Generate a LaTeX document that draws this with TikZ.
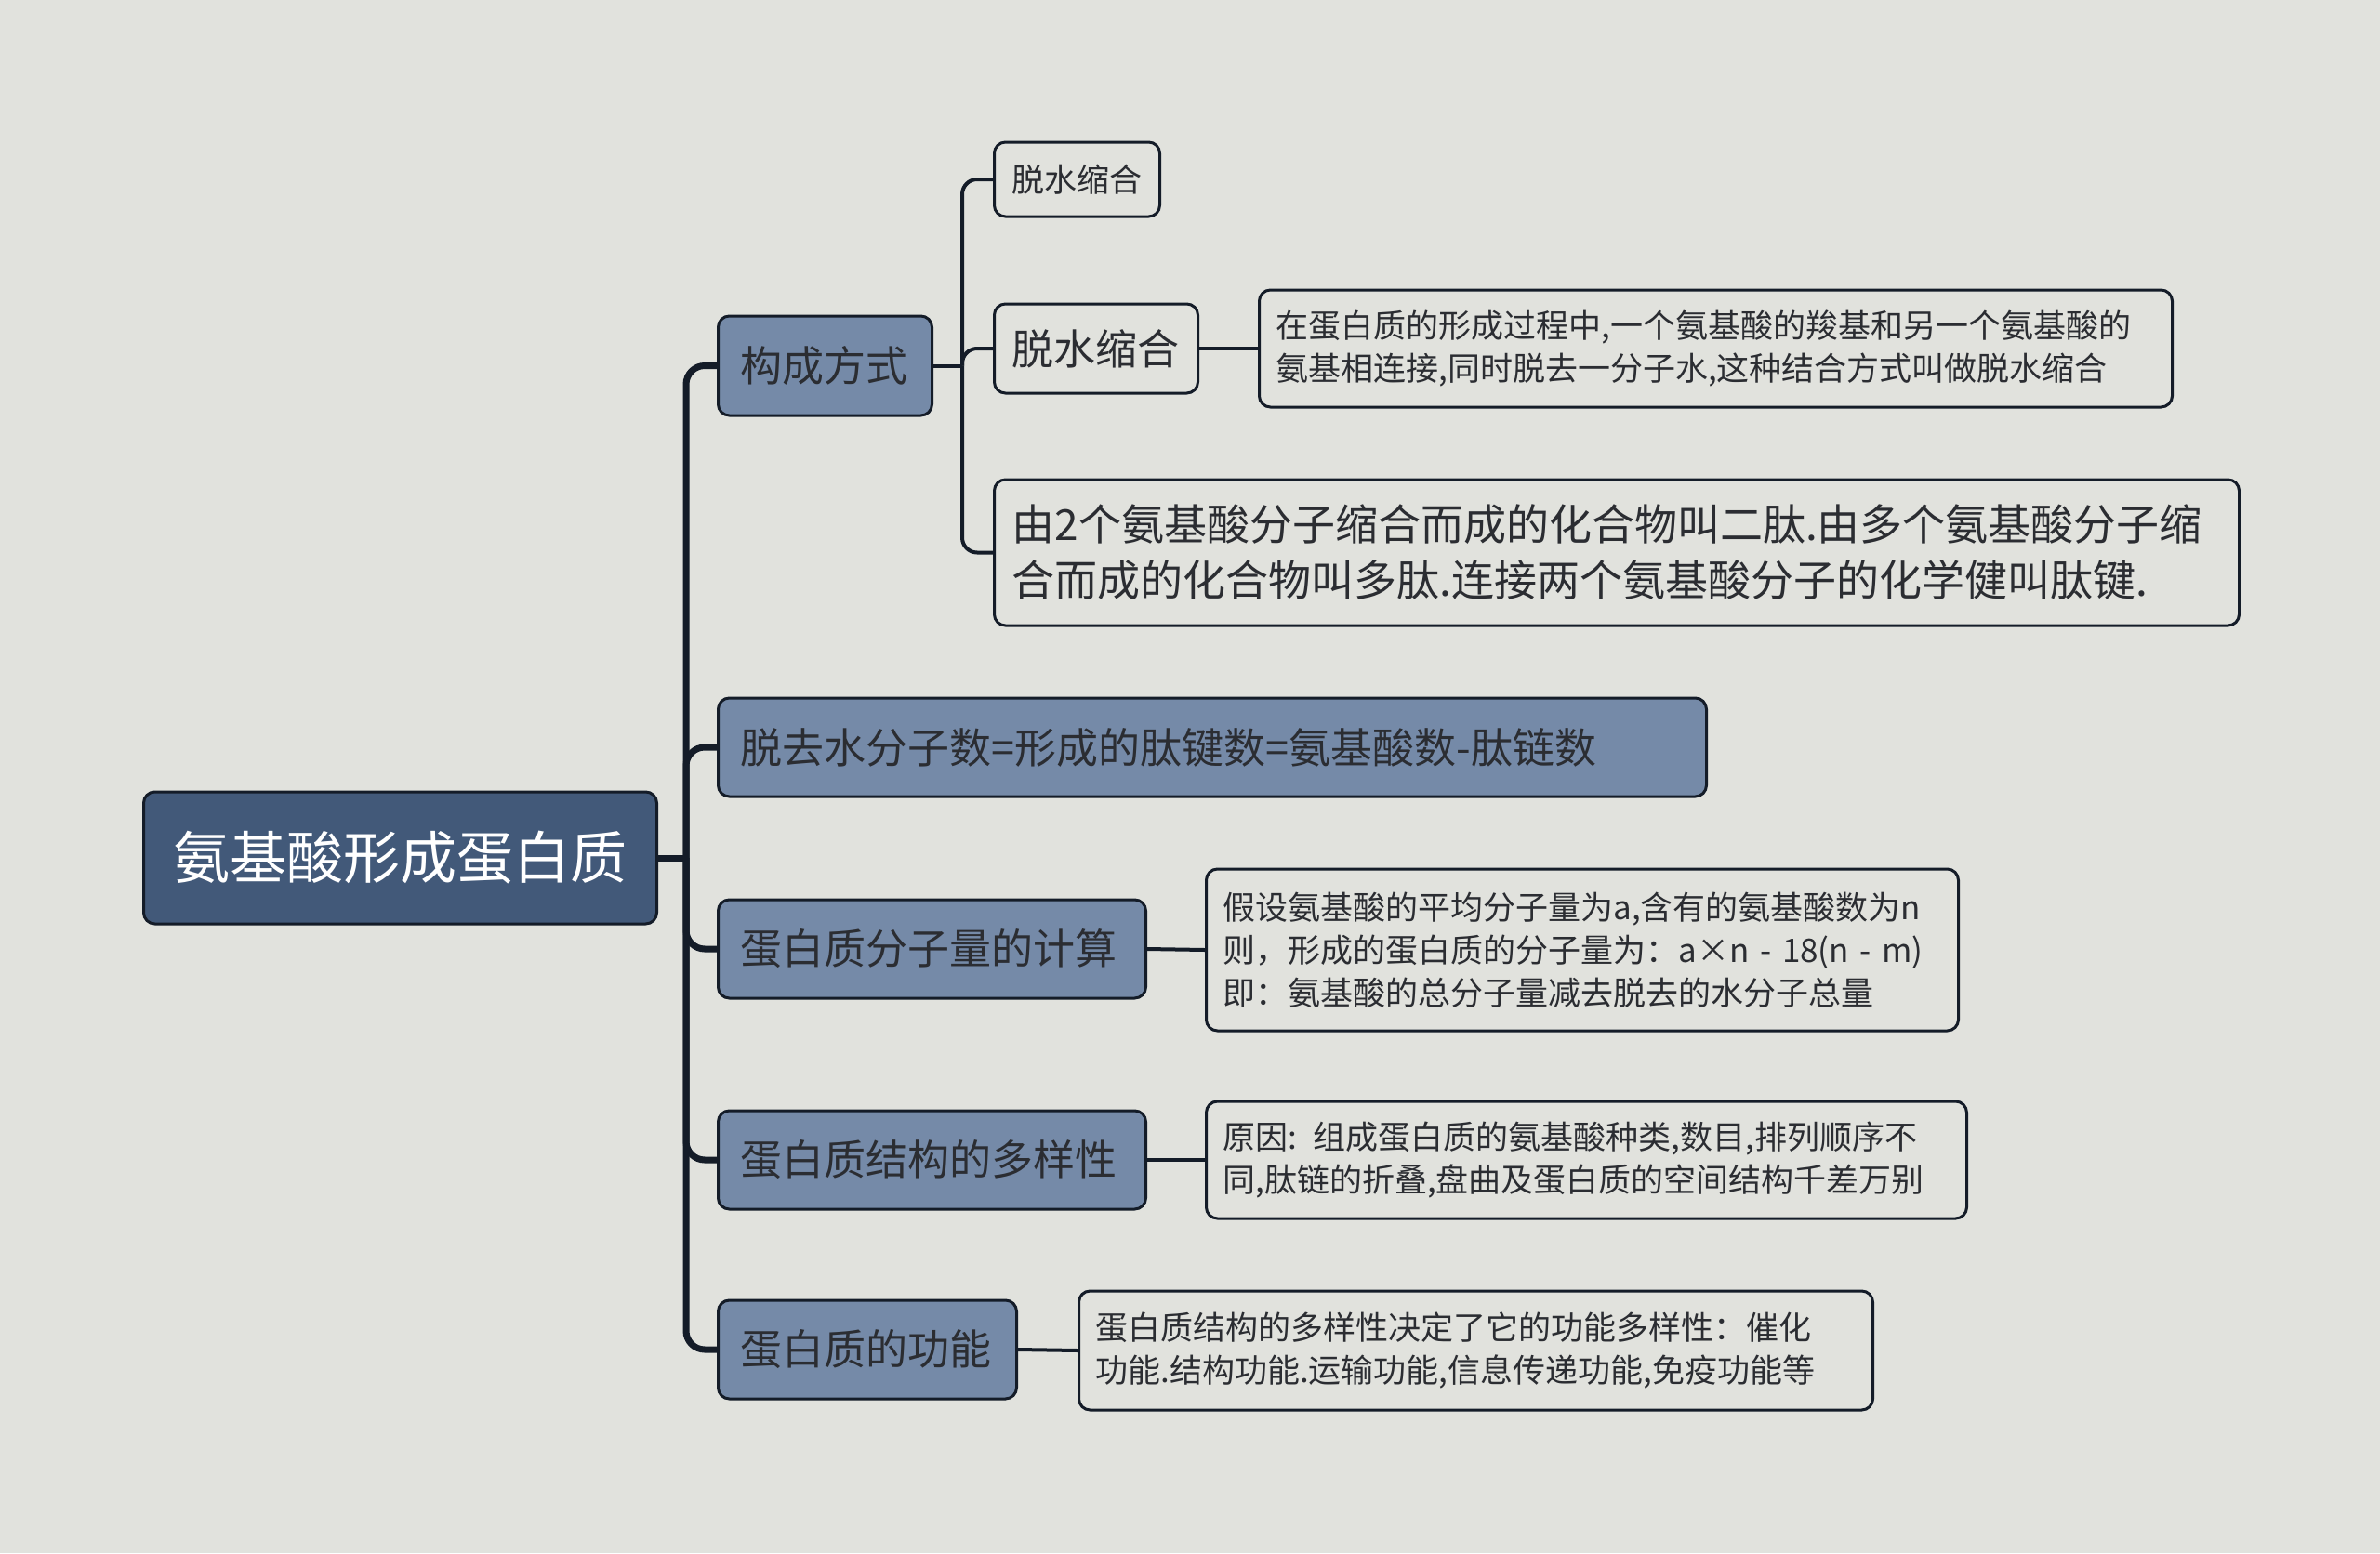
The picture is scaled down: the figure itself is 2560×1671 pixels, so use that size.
\documentclass[tikz,border=0pt]{standalone}
\usepackage{fontspec}
\setmainfont{Noto Sans CJK SC}
\usepackage{xcolor}
\usetikzlibrary{positioning}

\definecolor{bgpaper}{RGB}{225,226,221}
\definecolor{rootblue}{RGB}{66,89,121}
\definecolor{topicblue}{RGB}{117,138,168}
\definecolor{inkline}{RGB}{20,28,40}
\definecolor{inktext}{RGB}{43,45,50}

\begin{document}
\begin{tikzpicture}[x=0.5pt, y=-0.5pt,
    rootbox/.style={anchor=west, draw=inkline, line width=1.5pt, fill=rootblue, rounded corners=6pt,
        text=white, font=\fontsize{30.5}{36}\selectfont, inner sep=0pt},
    topicbox/.style={anchor=west, draw=inkline, line width=1.5pt, fill=topicblue, rounded corners=6pt,
        text=inktext, font=\fontsize{22.5}{27}\selectfont, align=left, inner xsep=12pt, inner ysep=0pt},
    subbox/.style={anchor=west, draw=inkline, line width=1.5pt, fill=bgpaper, rounded corners=6pt,
        text=inktext, align=left, inner xsep=9.5pt, inner ysep=0pt},
    notebox/.style={anchor=west, draw=inkline, line width=1.5pt, fill=bgpaper, rounded corners=6pt,
        text=inktext, font=\fontsize{17.5}{23}\selectfont, align=left, inner xsep=9pt, inner ysep=0pt},
    trunk/.style={draw=inkline, line width=3.5pt, rounded corners=10pt},
    twig/.style={draw=inkline, line width=2pt, rounded corners=8pt}]

    % canvas
    \fill[bgpaper] (0,0) rectangle (2560,1671);
    \useasboundingbox (0,0) rectangle (2560,1671);

    % central topic
    \node[rootbox, minimum width=276pt, minimum height=71pt] (root) at (153,923) {氨基酸形成蛋白质};

    % main branches
    \node[topicbox, text width=91pt, minimum height=53.5pt] (way) at (771,393.5) {构成方式};
    \node[topicbox, text width=507.5pt, minimum height=53pt] (water) at (771,804) {脱去水分子数=形成的肽键数=氨基酸数-肽链数};
    \node[topicbox, text width=206pt, minimum height=53pt] (mass) at (771,1021) {蛋白质分子量的计算};
    \node[topicbox, text width=206pt, minimum height=53pt] (variety) at (771,1248) {蛋白质结构的多样性};
    \node[topicbox, text width=136.5pt, minimum height=53pt] (func) at (771,1452) {蛋白质的功能};

    % sub branches of 构成方式
    \node[subbox, font=\fontsize{17.5}{21}\selectfont, text width=70pt, minimum height=40pt] (way1) at (1068,193) {脱水缩合};
    \node[subbox, font=\fontsize{22.5}{27}\selectfont, text width=90.5pt, minimum height=48pt] (way2) at (1068,375) {脱水缩合};
    \node[subbox, font=\fontsize{23}{30}\selectfont, text width=650.5pt, minimum height=78.5pt] (way3) at (1068,594.5)
        {由2个氨基酸分子缩合而成的化合物叫二肽.由多个氨基酸分子缩\\合而成的化合物叫多肽.连接两个氨基酸分子的化学健叫肽键.};

    % notes
    \node[notebox, text width=473pt, minimum height=63pt] (def) at (1353,375)
        {在蛋白质的形成过程中,一个氨基酸的羧基和另一个氨基酸的\\氨基相连接,同时脱去一分子水,这种结合方式叫做脱水缩合};
    \node[notebox, text width=386.5pt, minimum height=87pt] (massnote) at (1296,1022)
        {假设氨基酸的平均分子量为a,含有的氨基酸数为n\\则，形成的蛋白质的分子量为：a×n - 18(n - m)\\即：氨基酸的总分子量减去脱去的水分子总量};
    \node[notebox, text width=391pt, minimum height=63pt] (varnote) at (1296,1248)
        {原因: 组成蛋白质的氨基酸种类,数目,排列顺序不\\同,肽链的折叠,盘曲及蛋白质的空间结构千差万别};
    \node[notebox, text width=409pt, minimum height=64pt] (funcnote) at (1159,1453)
        {蛋白质结构的多样性决定了它的功能多样性：催化\\功能.结构功能.运输功能,信息传递功能,免疫功能等};

    % connectors from the central topic
    \coordinate (hub) at (738,923);
    \draw[trunk] (root.east) -- (hub);
    \foreach \kid in {way,water,mass,variety,func}
        \draw[trunk] (hub) |- (\kid.west);

    % connectors inside 构成方式
    \coordinate (fork) at (1035,393.5);
    \draw[twig] (way.east) -- (fork);
    \foreach \kid in {way1,way2,way3}
        \draw[twig] (fork) |- (\kid.west);

    % connectors to the notes
    \draw[twig] (way2.east) -- (def.west);
    \draw[twig] (mass.east) -- (massnote.west);
    \draw[twig] (variety.east) -- (varnote.west);
    \draw[twig] (func.east) -- (funcnote.west);

\end{tikzpicture}
\end{document}
